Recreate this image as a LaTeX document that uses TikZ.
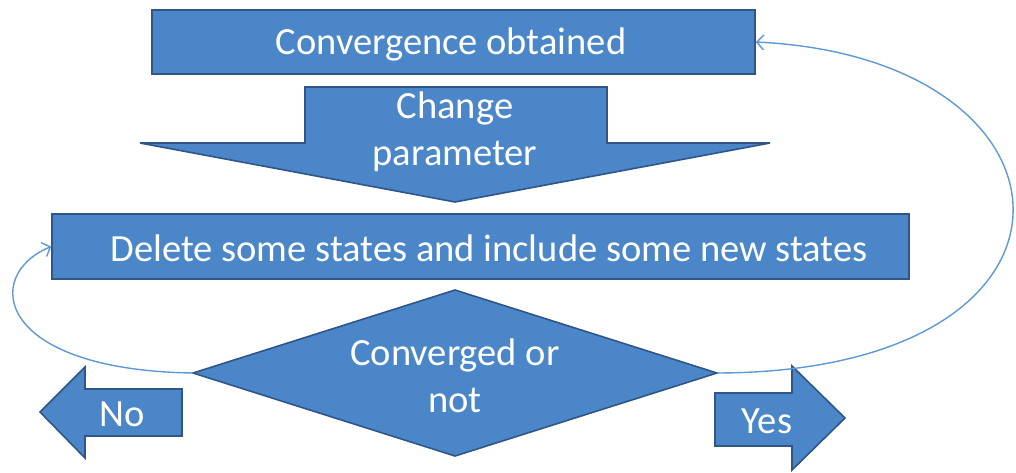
\documentclass[tikz,border=0pt]{standalone}
\usepackage{fontspec}
\setmainfont{Carlito}
\usetikzlibrary{arrows.meta,shapes.geometric}
\definecolor{boxfill}{RGB}{74,134,200}
\definecolor{boxedge}{RGB}{48,86,135}
\definecolor{curvecol}{RGB}{95,152,214}
\begin{document}
\begin{tikzpicture}[x=1pt,y=-1pt,
  shapebox/.style={fill=boxfill,draw=boxedge,line width=1.6pt,line join=miter},
  lbl/.style={text=white,font=\fontsize{38.5}{47}\selectfont,align=center,inner sep=0pt},
  loopline/.style={draw=curvecol,line width=1.4pt,-{Straight Barb[length=7pt,width=15pt,line width=1.4pt]}}]
\useasboundingbox (0,0) rectangle (1016,472);
% top box
\node[shapebox,minimum width=603pt,minimum height=64pt] (conv) at (453.5,42) {};
\node[lbl] (convtext) at (451,44) {Convergence obtained};
% down arrow
\draw[shapebox] (305,87) -- (607,87) -- (607,143) -- (770,143) -- (455,202) -- (140,143) -- (305,143) -- cycle;
\node[lbl] (param) at (455,132) {Change\\parameter};
% middle box
\node[shapebox,minimum width=857pt,minimum height=65pt] (delst) at (480.5,246.5) {};
\node[lbl] (delsttext) at (489,248) {Delete some states and include some new states};
% diamond
\node[shapebox,diamond,minimum width=524pt,minimum height=166pt,inner sep=0pt,outer sep=0pt] (dia) at (455,373) {};
\node[lbl] (diatext) at (455,376) {Converged or\\not};
% No arrow
\draw[shapebox] (40,412) -- (85,367) -- (85,389) -- (182,389) -- (182,436) -- (85,436) -- (85,458) -- cycle;
\node[lbl] (no) at (122,414) {No};
% Yes arrow
\draw[shapebox] (715,393) -- (792,393) -- (792,366) -- (845,418) -- (792,470) -- (792,446) -- (715,446) -- cycle;
\node[lbl] (yes) at (767,421) {Yes};
% loops
\draw[loopline] (dia.west) .. controls (-5,370) and (-18,275) .. (delst.west);
\draw[loopline] (dia.east) .. controls (1115,372) and (1095,58) .. (conv.east);
\end{tikzpicture}
\end{document}
